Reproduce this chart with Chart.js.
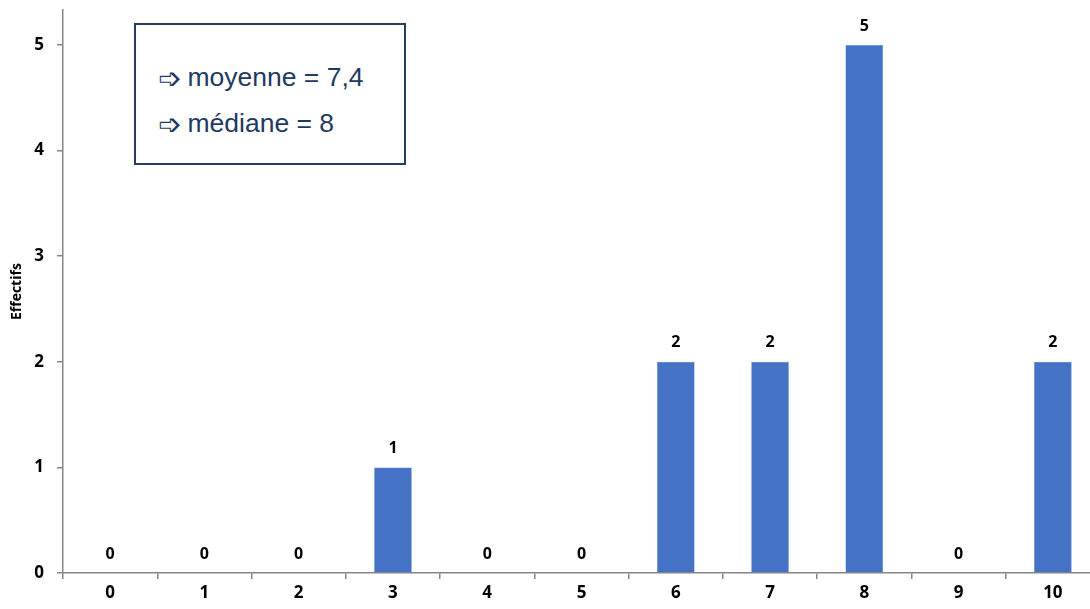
<!DOCTYPE html>
<html>
<head>
<meta charset="utf-8">
<script src="https://cdn.jsdelivr.net/npm/chart.js@4.4.0/dist/chart.umd.min.js"></script>
<style>
  html, body { margin: 0; padding: 0; background: #fff; overflow: hidden; }
  #wrap { position: relative; width: 1100px; height: 609px; overflow: hidden; }
  #myChart { position: absolute; left: 0; top: -13px; }
  #box {
    position: absolute; left: 134px; top: 23px; width: 268px; height: 138px;
    border: 2px solid #243f60; background: #fff;
    font-family: "Liberation Sans", Arial, sans-serif; font-size: 26.5px; color: #1f3a5f;
  }
  #box div { position: absolute; left: 22px; white-space: nowrap; line-height: 30px; }
  #box span.arr { font-family: "DejaVu Sans", sans-serif; font-size: 28px; margin-right: 6px; vertical-align: -2px; }
</style>
</head>
<body>
<div id="wrap">
  <canvas id="myChart" width="1100" height="622"></canvas>
  <div id="box">
    <div style="top:37px"><span class="arr">➩</span>moyenne = 7,4</div>
    <div style="top:83px"><span class="arr">➩</span>médiane = 8</div>
  </div>
</div>
<script>
const notes = ["0", "1", "2", "3", "4", "5", "6", "7", "8", "9", "10"];
const effectifs = [0, 0, 0, 1, 0, 0, 2, 2, 5, 0, 2];
const yTicks = [0, 1, 2, 3, 4, 5];

const fontFam = "'Open Sans', 'DejaVu Sans', sans-serif";

// little numbers above each bar
const barLabels = {
  id: "barLabels",
  afterDatasetsDraw(chart) {
    const ctx = chart.ctx;
    const meta = chart.getDatasetMeta(0);
    ctx.save();
    ctx.font = "bold 16px " + fontFam;
    ctx.fillStyle = "#000";
    ctx.textAlign = "center";
    ctx.textBaseline = "middle";
    meta.data.forEach((bar, i) => {
      ctx.fillText(effectifs[i], bar.x, bar.y - 19);
    });
    ctx.restore();
  },
};

const chart = new Chart(document.getElementById("myChart"), {
  type: "bar",
  data: {
    labels: notes,
    datasets: [
      {
        data: effectifs,
        backgroundColor: "#4472c4",
        borderColor: "#5b86d0",
        borderWidth: 0.5,
        barPercentage: 0.4,
        categoryPercentage: 1,
      },
    ],
  },
  options: {
    responsive: false,
    animation: false,
    layout: { padding: 0 },
    plugins: { legend: { display: false }, tooltip: { enabled: false } },
    scales: {
      x: {
        grid: { drawOnChartArea: false, tickLength: 6, color: "#868686", lineWidth: 1.5 },
        border: { color: "#868686", width: 1.5 },
        ticks: { color: "#000", font: { family: fontFam, size: 17, weight: "bold" }, padding: 4 },
        afterFit: (scale) => { scale.height = 36; },
      },
      y: {
        min: 0,
        max: 5.33,
        afterBuildTicks: (scale) => {
          scale.ticks = yTicks.map((v) => ({ value: v }));
        },
        grid: { drawOnChartArea: false, tickLength: 6, color: "#868686", lineWidth: 1.5 },
        border: { color: "#868686", width: 1.5 },
        ticks: { color: "#000", font: { family: fontFam, size: 17, weight: "bold" }, padding: 13 },
        title: {
          display: true,
          text: "Effectifs",
          color: "#000",
          font: { family: fontFam, size: 14, weight: "bold" },
          padding: { top: 9, bottom: 0 },
        },
        afterFit: (scale) => { scale.width = 63; },
      },
    },
  },
  plugins: [barLabels],
});
</script>
</body>
</html>
